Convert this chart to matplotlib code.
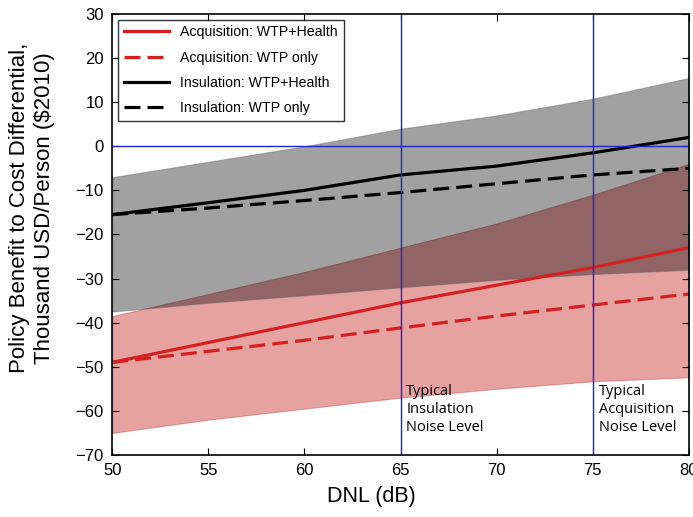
import numpy as np
import matplotlib
import matplotlib.pyplot as plt

matplotlib.use('Agg')
plt.rcParams['font.family'] = ['Liberation Sans', 'DejaVu Sans']

# DNL levels (dB)
dnl = [50, 55, 60, 65, 70, 75, 80]

# acquisition policy (thousand USD/person)
acq_health = [-49.0, -44.5, -40.0, -35.5, -31.5, -27.5, -23.0]
acq_wtp = [-49.0, -46.5, -44.0, -41.2, -38.5, -36.0, -33.5]
acq_upper = [-38.5, -33.5, -28.5, -23.0, -17.5, -11.0, -4.0]
acq_lower = [-65.0, -62.0, -59.5, -57.0, -55.0, -53.3, -52.4]

# insulation policy
ins_health = [-15.5, -12.8, -10.0, -6.5, -4.5, -1.5, 2.0]
ins_wtp = [-15.5, -14.0, -12.3, -10.5, -8.5, -6.5, -5.0]
ins_upper = [-7.0, -3.5, 0.0, 4.0, 7.0, 10.8, 15.5]
ins_lower = [-37.5, -35.5, -33.8, -32.0, -30.3, -29.0, -28.0]

fig = plt.figure(figsize=(6.93, 5.17), dpi=100)
ax = fig.add_axes([0.162, 0.12, 0.832, 0.853])

red = '#d42020'
ax.fill_between(dnl, acq_lower, acq_upper, color='#c83030', alpha=0.45, linewidth=0.8, edgecolor='#c05050')
ax.fill_between(dnl, ins_lower, ins_upper, color='black', alpha=0.37, linewidth=0.8, edgecolor='#606060')

dash = (0, (5, 2.2))
ax.plot(dnl, acq_health, color=red, lw=2.3, label='Acquisition: WTP+Health')
ax.plot(dnl, acq_wtp, color=red, lw=2.3, ls=dash, label='Acquisition: WTP only')
ax.plot(dnl, ins_health, color='black', lw=2.3, label='Insulation: WTP+Health')
ax.plot(dnl, ins_wtp, color='black', lw=2.3, ls=dash, label='Insulation: WTP only')

# reference lines
ax.axhline(0, color='#2020e0', lw=1)
ax.axvline(65, color='#2020e0', lw=1)
ax.axvline(75, color='#2020e0', lw=1)

ax.text(65.3, -53.8, 'Typical\nInsulation\nNoise Level', family=['Open Sans', 'DejaVu Sans'],
        fontsize=10.5, va='top', ha='left', linespacing=1.3)
ax.text(75.3, -53.8, 'Typical\nAcquisition\nNoise Level', family=['Open Sans', 'DejaVu Sans'],
        fontsize=10.5, va='top', ha='left', linespacing=1.3)

ax.set_xlim(50, 80)
ax.set_ylim(-70, 30)
ax.set_xticks(dnl)
ax.set_yticks(np.arange(-70, 31, 10))
ax.tick_params(direction='in', top=True, right=True, labelsize=12, length=5, pad=6)
for s in ax.spines.values():
    s.set_linewidth(1.2)

ax.set_xlabel('DNL (dB)', fontsize=15.5)
ax.xaxis.set_label_coords(0.45, -0.07)
ax.set_ylabel('Policy Benefit to Cost Differential,\nThousand USD/Person (\\$2010)', fontsize=16)
ax.yaxis.set_label_coords(-0.10, 0.56)

leg = ax.legend(loc='upper left', fontsize=10.2, handlelength=3.2, frameon=True, fancybox=False,
                borderaxespad=0.4, labelspacing=0.8)
leg.get_frame().set_edgecolor('black')
leg.get_frame().set_linewidth(1)

fig.savefig('out.png', dpi=100)
